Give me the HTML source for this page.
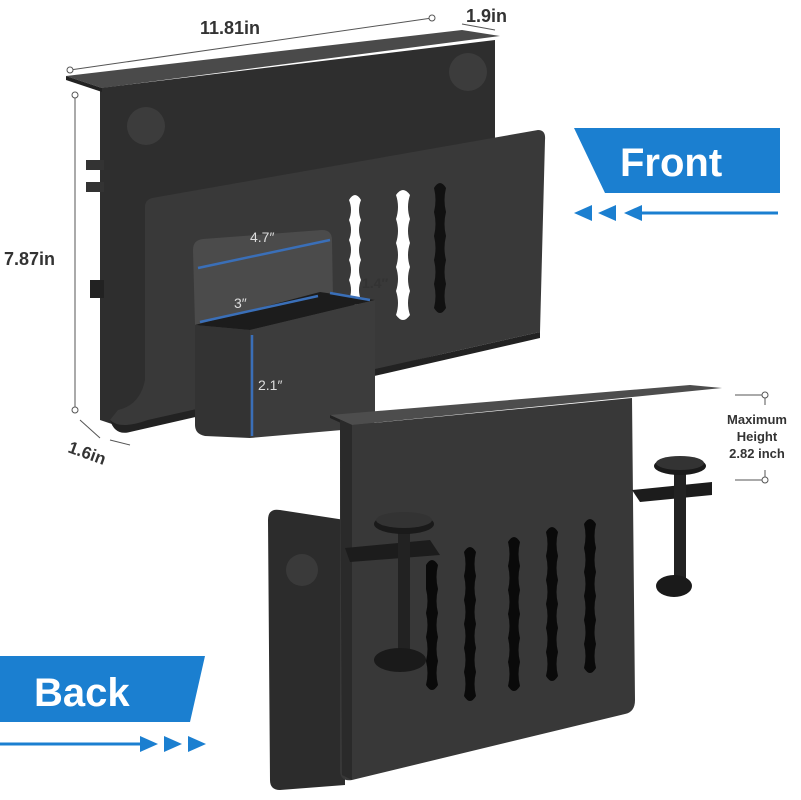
<!DOCTYPE html>
<html><head><meta charset="utf-8"><style>
html,body{margin:0;padding:0;background:#fff;}
svg{display:block;}
text{font-family:"Liberation Sans",sans-serif;}
</style></head><body>
<svg width="801" height="800" viewBox="0 0 801 800" xmlns="http://www.w3.org/2000/svg">
<rect width="801" height="800" fill="#fff"/>
<!-- TOP PRODUCT -->
<polygon points="100,88 495,40 495,140 540,330 130,430 100,420" fill="#2e2e2e"/>
<polygon points="66,76 462,30 500,36 102,88" fill="#4a4a4a"/>
<polygon points="66,76 102,88 102,92 66,80" fill="#222"/>
<rect x="86" y="160" width="18" height="10" fill="#333"/>
<rect x="86" y="182" width="18" height="10" fill="#333"/>
<rect x="90" y="280" width="14" height="18" fill="#222"/>
<circle cx="146" cy="126" r="19" fill="#3c3c3c"/>
<circle cx="468" cy="72" r="19" fill="#3c3c3c"/>
<path d="M145,207 Q145,200 152,198 L538,130 Q546,130 545,140 L540,332 L148,420 Q115,432 110,420 L118,410 Q140,405 145,380 Z" fill="#393939"/>
<path d="M110,420 Q115,436 130,432 L540,338 L540,332 L148,420 Q120,430 110,420Z" fill="#222"/>
<g fill="#fff">
<path d="M349,200 q6,-10 12,0 q-4,10 0,20 q-4,10 0,20 q-4,10 0,20 q-4,10 0,20 q-4,10 0,20 q-6,10 -12,0 q4,-10 0,-20 q4,-10 0,-20 q4,-10 0,-20 q4,-10 0,-20 q4,-10 0,-20z"/>
<path d="M396,195 q7,-10 14,0 q-4,12 0,24 q-4,12 0,24 q-4,12 0,24 q-4,12 0,24 q-4,12 0,24 q-7,10 -14,0 q4,-12 0,-24 q4,-12 0,-24 q4,-12 0,-24 q4,-12 0,-24 q4,-12 0,-24z"/>
</g>
<path d="M434,188 q6,-10 12,0 q-3,12 0,24 q-3,12 0,24 q-3,12 0,24 q-3,12 0,24 q-3,12 0,24 q-6,10 -12,0 q3,-12 0,-24 q3,-12 0,-24 q3,-12 0,-24 q3,-12 0,-24 q3,-12 0,-24z" fill="#111"/>
<path d="M193,250 Q193,240 203,239 L322,230 Q332,230 332,240 L333,300 L195,325 Z" fill="#4b4b4b"/>
<polygon points="195,325 320,292 375,300 250,330" fill="#1c1c1c"/>
<path d="M195,325 L250,330 L250,438 L205,436 Q195,434 195,425Z" fill="#333"/>
<path d="M250,330 L375,300 L375,420 Q374,428 365,428 L250,438Z" fill="#3c3c3c"/>
<g stroke="#3a6fb8" stroke-width="2.5">
<line x1="198" y1="268" x2="330" y2="240"/>
<line x1="330" y1="293" x2="370" y2="300"/>
<line x1="200" y1="322" x2="318" y2="296"/>
<line x1="252" y1="335" x2="252" y2="436"/>
</g>
<g fill="#ddd" font-size="14">
<text x="250" y="242">4.7″</text>
<text x="234" y="308">3″</text>
<text x="258" y="390">2.1″</text>
</g>
<text x="362" y="288" font-size="14" font-weight="bold" fill="#333">1.4″</text>
<g stroke="#555" stroke-width="1" fill="none">
<line x1="70" y1="70" x2="432" y2="18"/>
<line x1="462" y1="24" x2="495" y2="30"/>
<line x1="75" y1="95" x2="75" y2="410"/>
<line x1="80" y1="420" x2="100" y2="438"/>
<line x1="110" y1="440" x2="130" y2="445"/>
</g>
<g fill="#fff" stroke="#555"><circle cx="70" cy="70" r="3"/><circle cx="432" cy="18" r="3"/><circle cx="75" cy="95" r="3"/><circle cx="75" cy="410" r="3"/></g>
<g font-weight="bold" fill="#333">
<text x="200" y="34" font-size="18">11.81in</text>
<text x="466" y="22" font-size="18">1.9in</text>
<text x="4" y="265" font-size="18">7.87in</text>
<text x="68" y="458" font-size="17" transform="rotate(20 85 452)">1.6in</text>
</g>
<polygon points="574,128 780,128 780,193 605,193" fill="#1b7fd0"/>
<text x="620" y="176" font-size="40" font-weight="bold" fill="#fff">Front</text>
<g fill="#1b7fd0"><polygon points="574,213 592,205 592,221"/><polygon points="598,213 616,205 616,221"/><polygon points="624,213 642,205 642,221"/></g>
<line x1="642" y1="213" x2="778" y2="213" stroke="#1b7fd0" stroke-width="3"/>
<!-- BOTTOM PRODUCT -->
<path d="M268,520 Q268,508 280,510 L345,520 L345,785 L280,790 Q270,790 270,780Z" fill="#2c2c2c"/>
<circle cx="302" cy="570" r="16" fill="#3a3a3a"/>
<polygon points="330,415 690,385 722,388 352,425" fill="#4d4d4d"/>
<polygon points="330,415 352,425 352,428 330,418" fill="#222"/>
<path d="M340,420 L352,425 L632,398 L635,700 Q635,712 625,714 L352,780 Q340,782 340,770Z" fill="#383838"/>
<path d="M340,420 L352,425 L352,780 L342,775Z" fill="#2a2a2a"/>
<g fill="#0a0a0a">
<path d="M464,552 q6,-10 12,0 q-3,12 0,24 q-3,12 0,24 q-3,12 0,24 q-3,12 0,24 q-3,12 0,24 q-3,12 0,24 q-6,10 -12,0 q3,-12 0,-24 q3,-12 0,-24 q3,-12 0,-24 q3,-12 0,-24 q3,-12 0,-24 q3,-12 0,-24z"/>
<path d="M508,542 q6,-10 12,0 q-3,12 0,24 q-3,12 0,24 q-3,12 0,24 q-3,12 0,24 q-3,12 0,24 q-3,12 0,24 q-6,10 -12,0 q3,-12 0,-24 q3,-12 0,-24 q3,-12 0,-24 q3,-12 0,-24 q3,-12 0,-24 q3,-12 0,-24z"/>
<path d="M546,532 q6,-10 12,0 q-3,12 0,24 q-3,12 0,24 q-3,12 0,24 q-3,12 0,24 q-3,12 0,24 q-3,12 0,24 q-6,10 -12,0 q3,-12 0,-24 q3,-12 0,-24 q3,-12 0,-24 q3,-12 0,-24 q3,-12 0,-24 q3,-12 0,-24z"/>
<path d="M584,524 q6,-10 12,0 q-3,12 0,24 q-3,12 0,24 q-3,12 0,24 q-3,12 0,24 q-3,12 0,24 q-3,12 0,24 q-6,10 -12,0 q3,-12 0,-24 q3,-12 0,-24 q3,-12 0,-24 q3,-12 0,-24 q3,-12 0,-24 q3,-12 0,-24z"/>
<path d="M426,565 q6,-10 12,0 q-3,12 0,24 q-3,12 0,24 q-3,12 0,24 q-3,12 0,24 q-3,12 0,24 q-6,10 -12,0 q3,-12 0,-24 q3,-12 0,-24 q3,-12 0,-24 q3,-12 0,-24z"/>
</g>
<polygon points="345,548 430,540 440,555 350,562" fill="#1c1c1c"/>
<rect x="398" y="530" width="12" height="132" fill="#222"/>
<ellipse cx="404" cy="524" rx="30" ry="10" fill="#1a1a1a"/>
<ellipse cx="404" cy="520" rx="28" ry="8" fill="#333"/>
<ellipse cx="400" cy="660" rx="26" ry="12" fill="#1a1a1a"/>
<polygon points="632,490 712,482 712,495 640,502" fill="#1c1c1c"/>
<rect x="674" y="470" width="12" height="115" fill="#222"/>
<ellipse cx="680" cy="466" rx="26" ry="9" fill="#1a1a1a"/>
<ellipse cx="680" cy="463" rx="24" ry="7" fill="#333"/>
<ellipse cx="674" cy="586" rx="18" ry="11" fill="#1a1a1a"/>
<g stroke="#555" fill="none"><line x1="735" y1="395" x2="765" y2="395"/><line x1="735" y1="480" x2="765" y2="480"/><line x1="765" y1="395" x2="765" y2="405"/><line x1="765" y1="470" x2="765" y2="480"/></g>
<g fill="#fff" stroke="#555"><circle cx="765" cy="395" r="3"/><circle cx="765" cy="480" r="3"/></g>
<g font-weight="bold" font-size="13" fill="#333" text-anchor="middle">
<text x="757" y="424">Maximum</text><text x="757" y="441">Height</text><text x="757" y="458">2.82 inch</text>
</g>
<polygon points="0,656 205,656 190,722 0,722" fill="#1b7fd0"/>
<text x="34" y="706" font-size="40" font-weight="bold" fill="#fff">Back</text>
<line x1="0" y1="744" x2="140" y2="744" stroke="#1b7fd0" stroke-width="3"/>
<g fill="#1b7fd0"><polygon points="158,744 140,736 140,752"/><polygon points="182,744 164,736 164,752"/><polygon points="206,744 188,736 188,752"/></g>
</svg>
</body></html>
